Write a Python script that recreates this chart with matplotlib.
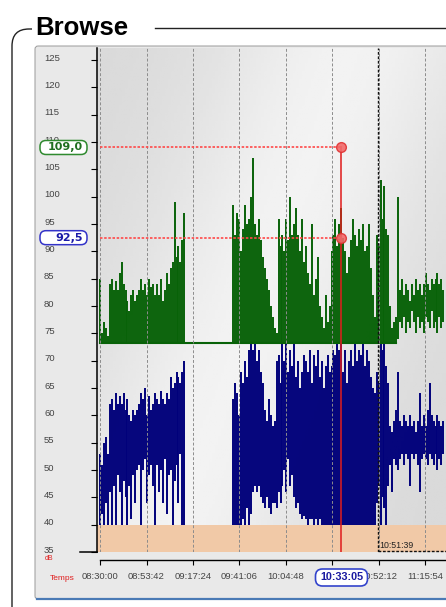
import numpy as np
import matplotlib
matplotlib.use("Agg")
import matplotlib.pyplot as plt
from matplotlib.patches import FancyBboxPatch, PathPatch
from matplotlib.path import Path
from matplotlib.transforms import IdentityTransform, ScaledTranslation

W, H = 446, 607

# --- data: one sample per minute, starting 08:30:00 -------------------
green_floor = 73.3
green_hi = [
    85, 75, 77, 76, 74.5, 84, 85, 83, 84.5, 83,
    86, 88, 84, 83, 81, 79, 82, 83, 81, 82,
    83, 85, 83, 84, 82, 85, 83.5, 84, 82, 84,
    82, 85, 81, 83, 86, 84, 87, 88, 99, 89,
    91, 88, 92, 97,
    73.3, 73.3, 73.3, 73.3, 73.3, 73.3, 73.3, 73.3, 73.3, 73.3, 73.3, 73.3,
    73.3, 73.3, 73.3, 73.3, 73.3, 73.3, 73.3, 73.3, 73.3, 73.3, 73.3, 73.3,
    98.5, 93, 97, 96, 90, 94, 98.5, 95, 96, 100,
    107, 95, 93, 96, 92, 89, 87, 85, 83, 80,
    78, 76, 75, 96, 91, 93, 90, 96, 92, 100,
    93, 95, 98, 93, 90, 96, 88, 91, 86, 84,
    95, 82, 85, 89, 80, 78, 76, 82, 77, 80,
    90, 93, 96, 91, 95, 98, 92.5, 90, 86, 89,
    92, 96, 93, 91, 94, 92, 95, 90, 91, 95,
    87, 82, 78, 93, 91, 103, 96, 102, 94, 93,
    80, 76, 77, 78, 100, 83, 85, 82, 84, 83,
    81, 84, 82, 85, 83, 84, 82, 84, 86, 84,
    83, 85, 84, 85, 86, 84, 85, 83,
]
# lower edge of the green trace after 11:02 (before that it sits on the floor)
green_lo_tail = [74, 77, 76, 78, 75, 77, 76, 79, 77, 75, 78, 76,
                 77, 75, 78, 77, 76, 79, 76, 77, 75, 78, 76, 77]

nan = float("nan")
blue_hi = [
    53, 51, 55, 56, 53, 62, 63, 61, 64, 62,
    63.5, 62, 64, 61, 63, 60, 59, 61, 60, 61,
    62, 64, 63, 65, 60, 63.5, 61, 62, 64, 63,
    62, 64.5, 63, 62, 64, 63, 67, 65, 66, 68,
    67, 66, 68, 70,
    nan, nan, nan, nan, nan, nan, nan, nan, nan, nan, nan, nan,
    nan, nan, nan, nan, nan, nan, nan, nan, nan, nan, nan, nan,
    63, 66, 64, 60, 68, 66, 70, 67, 72, 73,
    72, 73, 70, 72, 68, 66, 61, 59, 63, 60,
    58, 59, 70, 71, 66, 73, 70, 73, 68, 72,
    69, 73, 67, 70, 65, 68, 71, 70, 68, 72,
    66, 71, 69, 72, 67, 70, 65, 69, 71, 68,
    69, 72, 71, 73, 72, 73, 68, 72, 66, 70,
    72, 69, 73, 70, 72, 71, 73, 69, 72, 70,
    67, 65, 64, 68, 66, 73, 72, 73, 69, 66,
    58, 57, 59, 61, 68, 59, 58, 60, 59, 58,
    60, 58, 59, 57, 59, 64, 58, 60, 58, 61,
    66, 60, 59, 58, 60, 59, 58, 59,
]
blue_lo = [
    40, 42, 40, 44, 40, 46, 40, 47, 40, 49,
    46, 40, 48, 45, 40, 47, 41, 49, 44, 50,
    51, 40, 50, 52, 44, 49, 51, 47, 40, 51,
    46, 50, 44, 52, 42, 49, 50, 40, 48, 51,
    44, 53, 40, 40,
    nan, nan, nan, nan, nan, nan, nan, nan, nan, nan, nan, nan,
    nan, nan, nan, nan, nan, nan, nan, nan, nan, nan, nan, nan,
    40, 40, 40, 40, 40, 41, 40, 43, 40, 42,
    46, 47, 46, 47, 45, 44, 43, 45, 43, 42,
    44, 44, 43, 46, 44, 47, 50, 46, 52, 47,
    49, 45, 43, 44, 42, 41, 41.5, 41, 40, 41,
    41, 40, 41, 40, 41, 40, 40, 40, 40, 40,
    40, 40, 40, 40, 40, 40, 40, 40, 40, 40,
    40, 40, 40, 40, 40, 40, 40, 40, 40, 40,
    40, 40, 40, 44, 47, 40, 45, 43, 40, 47,
    51, 46, 52, 51, 50, 52, 53, 51, 53, 52,
    47, 53, 52, 53, 51, 46, 52, 53, 52, 51,
    53, 52, 51, 53, 50, 52, 51, 53,
]

y_ticks = list(range(35, 130, 5))
x_labels = ["08:30:00", "08:53:42", "09:17:24", "09:41:06",
            "10:04:48", "10:28:30", "10:52:12", "11:15:54"]
cursor_time = "10:33:05"
cursor_vals = [109.0, 92.5]
cursor_texts = ["109,0", "92,5"]
marker_time = "10:51:39"
band = (35, 40)


def minutes(s):
    h, m, sec = (int(v) for v in s.split(":"))
    return (h * 3600 + m * 60 + sec - 8.5 * 3600) / 60.0


def px(x, y):
    # image pixels (top-left origin) -> figure fraction
    return x / W, 1 - y / H


t = np.arange(len(green_hi))
g_hi = np.array(green_hi, float)
g_lo = np.full(len(t), green_floor)
n_floor = len(t) - len(green_lo_tail)
g_lo[n_floor:] = green_lo_tail
b_hi = np.array(blue_hi, float)
b_lo = np.array(blue_lo, float)
xt = [minutes(s) for s in x_labels]
cur = minutes(cursor_time)
mk = minutes(marker_time)

fig = plt.figure(figsize=(W / 100, H / 100), dpi=100)
fig.patch.set_facecolor("white")
idt = IdentityTransform()

# group box frame + title
frame = Path([(12, H - 607), (12, H - 46), (12, H - 29), (29, H - 29), (32, H - 29)],
             [Path.MOVETO, Path.LINETO, Path.CURVE3, Path.CURVE3, Path.LINETO])
fig.add_artist(PathPatch(frame, fill=False, ec="#222222", lw=1.0, transform=idt))
fig.add_artist(plt.Line2D([155, 446], [H - 28, H - 28], color="#222222", lw=1.0, transform=idt))
fig.text(*px(35, 35), "Browse", fontsize=18.5, fontweight="bold",
         family="Liberation Sans", va="baseline", ha="left")

# inner panel
fig.add_artist(FancyBboxPatch((35, H - 599), 430, 553, boxstyle="round,pad=0,rounding_size=3",
                              fc="#e9e9e9", ec="#9a9a9a", lw=0.7, transform=idt, zorder=0))
fig.add_artist(plt.Line2D([37, 446], [H - 599, H - 599], color="#4a7ab5", lw=1.6, transform=idt))

ax = fig.add_axes([97 / W, 1 - 552 / H, 349 / W, 504 / H])
ax.set_zorder(1)

# background shading of plot area
yy, xx = np.mgrid[0:1:120j, 0:1:120j]
u = xx * 0.85 + yy * 0.45
shade = 0.85 + 0.10 * np.exp(-((u - 0.62) / 0.34) ** 2)
ax.imshow(shade, cmap="gray", vmin=0, vmax=1, extent=[0, 1, 0, 1], transform=ax.transAxes,
          aspect="auto", zorder=0, interpolation="bilinear")

ax.axhspan(*band, color="#f1c9a7", lw=0, zorder=1)

ok = np.isfinite(b_hi)
ax.vlines(t[ok], b_lo[ok], b_hi[ok], color="#00007a", lw=1.4, zorder=2)
ax.vlines(t, g_lo, g_hi, color="#086208", lw=1.4, zorder=2.1)
ax.plot(t[:n_floor], g_lo[:n_floor], color="#086208", lw=1.5, zorder=2.2)

ax.set_xlim(-1.53, 176.35)
ax.set_ylim(35, 127.2)

# cursor
for v in cursor_vals:
    ax.plot([0, cur], [v, v], color="#ff4848", lw=1.2, ls=(0, (1.5, 1)), zorder=4)
ax.plot([cur, cur], [35, max(cursor_vals)], color="#e01e1e", lw=1.4, alpha=0.8, zorder=5)
ax.plot([cur] * len(cursor_vals), cursor_vals, "o", ms=7, mfc="#f26a6a", mec="#e03333",
        mew=1, alpha=0.9, zorder=6)

# marker line
ax.axvline(mk, color="#111111", lw=1.0, ls=(0, (2, 1.2)), zorder=4)
ax.plot([mk, 176.35], [35.1, 35.1], color="#111111", lw=1.0, ls=(0, (2, 1.2)),
        zorder=4, clip_on=False)
ax.text(mk + 0.6, 35.8, marker_time, fontsize=6.3, color="#222222",
        family="Liberation Sans", zorder=4)

# axes styling
ax.set_facecolor("none")
for s in ["top", "right"]:
    ax.spines[s].set_visible(False)
ax.spines["left"].set_linewidth(1.1)
ax.spines["bottom"].set_position(("outward", 6))
ax.spines["bottom"].set_bounds(0, 176.35)
ax.spines["bottom"].set_linewidth(1.0)

ax.set_yticks(y_ticks)
ax.set_yticklabels([str(v) for v in y_ticks], ha="left", family="Liberation Sans",
                   fontsize=6.8, color="#444444")
ax.tick_params(axis="y", length=4.3, width=0.8, pad=33.8)
lift = ScaledTranslation(0, 2 / 72, fig.dpi_scale_trans)
for lab in ax.get_yticklabels():
    lab.set_transform(lab.get_transform() + lift)
ax.plot([-17 / 349, 0], [35, 35], color="black", lw=1.1, transform=ax.get_yaxis_transform(),
        clip_on=False)

ax.set_xticks(xt)
ax.set_xticklabels(x_labels, family="Liberation Sans", fontsize=6.8, color="#444444")
ax.tick_params(axis="x", length=3.6, width=0.8, pad=5)
ax.grid(axis="x", color="#8c8c8c", lw=0.7, ls=(0, (3, 2)))
ax.set_axisbelow(False)

fig.text(*px(45, 558), "dB", fontsize=5, color="#e02020", va="center", family="Liberation Sans")
fig.text(*px(50, 579), "Temps", fontsize=6, color="#e02020", va="center", family="Liberation Sans")

# value pills on the y axis
fig.canvas.draw()
pill_style = [("#2f8a2f", "#1f6f1f"), ("#3333c8", "#1a1aa8")]
for v, txt, (ec, tc) in zip(cursor_vals, cursor_texts, pill_style):
    yd = ax.transData.transform((0, v))[1]
    fig.add_artist(FancyBboxPatch((40, yd - 7), 47, 14, boxstyle="round,pad=0,rounding_size=6",
                                  fc="white", ec=ec, lw=1.1, transform=idt, zorder=10))
    fig.text(83, yd, txt, transform=idt, ha="right", va="center", fontsize=8,
             fontweight="bold", color=tc, zorder=11)

# time pill under the axis
xd = ax.transData.transform((cur, 0))[0]
fig.add_artist(FancyBboxPatch((xd - 26, H - 586), 52, 17, boxstyle="round,pad=0,rounding_size=7",
                              fc="white", ec="#3344cc", lw=1.2, transform=idt, zorder=10))
fig.text(xd, H - 577.5, cursor_time, transform=idt, ha="center", va="center", fontsize=7.8,
         fontweight="bold", family="Liberation Sans", color="#1a1aa0", zorder=11)

fig.savefig("out.png", dpi=100)
